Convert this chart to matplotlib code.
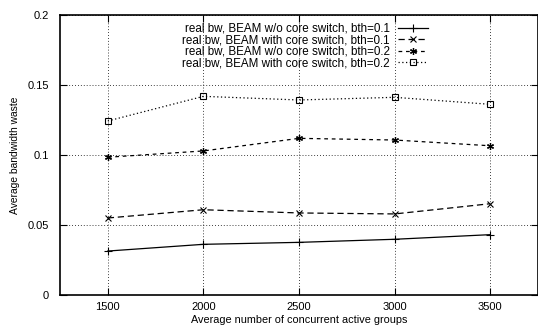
import matplotlib
matplotlib.use("Agg")
import matplotlib.pyplot as plt

plt.rcParams['font.family'] = ['Liberation Sans', 'DejaVu Sans']

groups = [1500, 2000, 2500, 3000, 3500]
wo_core_01 = [0.0314, 0.0362, 0.0376, 0.0398, 0.0431]
with_core_01 = [0.0550, 0.0609, 0.0586, 0.0579, 0.0652]
wo_core_02 = [0.0984, 0.1029, 0.1119, 0.1107, 0.1066]
with_core_02 = [0.1243, 0.1419, 0.1393, 0.1412, 0.1362]

labels = ["real bw, BEAM w/o core switch, bth=0.1",
          "real bw, BEAM with core switch, bth=0.1",
          "real bw, BEAM w/o core switch, bth=0.2",
          "real bw, BEAM with core switch, bth=0.2"]

fig = plt.figure(figsize=(5.38, 3.29), dpi=100)
ax = fig.add_axes([60 / 538, 34 / 329, 478 / 538, 280 / 329])

lw = 0.9
ax.plot(groups, wo_core_01, color='black', lw=lw, ls='-', marker='+', ms=6, mew=0.8, label=labels[0])
ax.plot(groups, with_core_01, color='black', lw=lw, ls=(0, (5, 3)), marker='x', ms=5, mew=0.8, label=labels[1])
ax.plot(groups, wo_core_02, color='black', lw=lw, ls=(0, (3, 3)), marker=(6, 2, 0), ms=5, mew=0.9, label=labels[2])
ax.plot(groups, with_core_02, color='black', lw=lw, ls=(0, (1, 2)), marker='s', ms=4.5, mfc='none', mew=0.8, label=labels[3])

ax.set_xlim(1250, 3750)
ax.set_ylim(0, 0.2)
ax.set_xticks(groups)
ax.set_yticks([0, 0.05, 0.1, 0.15, 0.2])
ax.set_yticklabels(['0', '0.05', '0.1', '0.15', '0.2'])
ax.grid(True, color='black', ls=(0, (1, 2.5)), lw=0.6)
ax.tick_params(direction='in', length=5, width=0.8, top=True, right=True, labelsize=8)
ax.tick_params(axis='x', pad=5)
ax.tick_params(axis='y', pad=8)
for s in ax.spines.values():
    s.set_linewidth(1.2)

ax.set_xlabel('Average number of concurrent active groups', fontsize=7.8, labelpad=2)
ax.set_ylabel('Average bandwidth waste', fontsize=7.4)
ax.yaxis.set_label_coords(-40 / 478, 0.5)

# gnuplot-style key: text right-aligned, sample after the text
ax.legend(loc='upper right', bbox_to_anchor=(0.77, 0.972), frameon=False, markerfirst=False,
          fontsize=8.4, handlelength=2.55, labelspacing=-0.05, handletextpad=0.75,
          borderpad=0.0, borderaxespad=0.0)

fig.savefig('out.png', dpi=100)
